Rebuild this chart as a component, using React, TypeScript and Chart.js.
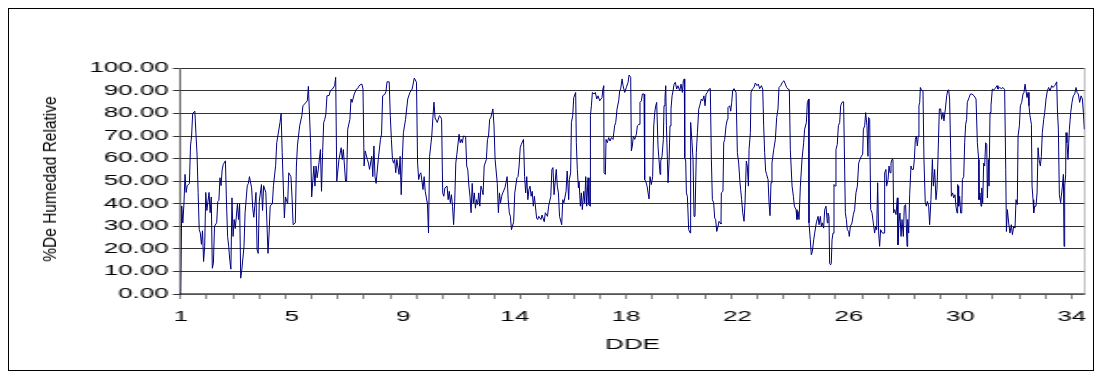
import React, { useEffect, useRef } from "react";
import { Chart, registerables } from "chart.js";

Chart.register(...registerables);

// Hour offsets (from the first reading) at which the relative humidity was read
const hours: number[] = [
  0, 1, 2, 3, 4, 5, 6, 8, 9, 10, 11, 13, 14, 15, 16, 17, 18, 19, 20, 21,
  22, 23, 24, 26, 27, 28, 29, 30, 31, 33, 34, 35, 36, 37, 38, 39, 41, 42, 43, 44,
  45, 46, 47, 48, 49, 50, 52, 53, 54, 55, 56, 58, 59, 61, 62, 63, 65, 66, 67, 69,
  70, 71, 72, 74, 75, 76, 78, 79, 80, 81, 82, 84, 85, 87, 88, 89, 91, 92, 93, 94,
  95, 96, 98, 99, 101, 102, 103, 105, 106, 107, 109, 111, 112, 115, 116,
  117, 119, 120, 122, 123, 124, 125, 126, 128, 129, 130, 131, 132, 133, 134, 136, 137, 139, 141, 142,
  143, 145, 147, 148, 149, 151, 152, 153, 155, 156, 157, 159, 161, 162, 164, 166, 167, 168, 169, 171,
  172, 173, 175, 176, 177, 178, 179, 181, 183, 184, 185, 187, 188, 189, 191, 192, 193, 194, 195, 196,
  197, 198, 200, 201, 202, 203, 204, 206, 207, 208, 210, 212, 214, 216, 217, 218, 219, 220, 222, 223,
  224, 226, 227, 228, 230, 231, 232, 233, 235,
  237, 238, 239, 240, 241, 242, 244, 245, 246, 247, 248, 249, 250, 251, 252, 253, 255, 256, 257, 258,
  259, 261, 262, 263, 264, 265, 266, 267, 268, 269, 270, 271, 272, 273, 274, 275, 276, 277, 278, 280,
  281, 282, 283, 284, 286, 287, 288, 290, 291, 292, 293, 294, 295, 297, 299, 300, 301, 302, 303, 305,
  306, 308, 309, 310, 311, 312, 314, 315, 316, 317, 318, 319, 320, 321, 322, 323, 324, 326, 327, 328,
  330, 331, 333, 334, 336, 337, 339, 340, 341, 342, 344, 345, 346, 347, 349, 350, 351, 353, 354,
  355.4, 356, 357.2, 357.9, 359.1, 360, 361.8, 362.4, 363.3, 364.3, 364.9, 366.1, 367, 367.9, 369.2, 370.1, 371, 371.9, 373.1, 374,
  375, 375.3, 376.2, 377.1, 378.6, 379.8, 381.1, 382.3, 383.8, 385.9, 386.9, 387.5, 387.8, 389, 389.6, 390.8, 392, 393.3, 394.5, 396,
  397.5, 398.5, 399.7, 401.2, 402.1, 403, 404.3, 405.2, 406.7, 408.2, 409.8, 410.7, 412.2, 412.8, 413.7, 414.6, 415.9, 417.4, 418.3, 419.8,
  420.7, 422, 422.9, 424.4, 425, 425.9, 427.2, 428.1, 429, 429.9, 431.1, 432.3, 433.3, 434.2, 435.1, 436, 437.2, 438.1, 439.1, 439.7,
  440.9, 442.1, 442.7, 443.6, 444.3, 444.9, 445.8, 446.4, 447.3, 448.2, 449.1, 450.1, 451, 451.9, 453.1, 454.3, 455.5, 457.1, 458.3, 459.5,
  460.4, 461.3, 461.7, 462.6, 463.2, 464.1, 465.3, 466.8, 467.1, 468.4, 469.3, 470.2, 471.1, 472.3, 473.3,
  474.5, 475.4, 476.9, 478.1, 479.3, 480.3, 481.2, 482.4, 483.9, 485.1, 486.1, 487, 488.2, 489.1, 490, 491, 492.2, 493.1, 494, 494.9,
  495.2, 496.7, 497.4, 498.3, 499.5, 500.7, 501.3, 502.9, 503.8, 504.7, 505.6, 506.8, 508.7, 509.9, 511.1, 512.3, 512.9, 513.8, 514.8, 516,
  516.9, 518.1, 519, 520, 520.6, 521.8, 522.4, 523.6, 525.1, 526.4, 527.9, 529.1, 530.3, 531.9, 533.1, 534, 534.9, 535.8, 536.7, 538,
  538.9, 539.8, 540.7, 541.6, 543.2, 544.7, 545.9, 547.1, 548, 549.6, 551.1, 552.6, 553.8, 555.1, 556.3, 557.5, 558.4, 560, 561.2, 562.1,
  563.6, 564.5, 565.4, 566.4, 567.6, 569.1, 570.6, 571.5, 573.1, 574, 575.2, 575.5, 576.7, 577.6, 578.6, 579.8, 580.7, 582.2, 583.8, 584.7,
  585.9, 586.8, 587.7, 588.9, 589.9, 591.1, 592.3,
  592.9, 593.8, 594.4, 595.3, 595.9, 596.6, 597.5, 598.4, 599.6, 600.2, 601.4, 602.4, 603.6, 604.5, 605.7, 607.2, 608.8, 609.7, 610.6, 611.8,
  612.4, 613.4, 614.9, 616.1, 617.3, 618.5, 619.8, 621, 622.2, 623.4, 624.7, 625.3, 626.5, 627.4, 628.6, 629.5, 630.1, 631.1, 632, 633.2,
  634.4, 635.6, 636.6, 637.5, 638.4, 639.3, 640.2, 641.1, 642.7, 644.2, 644.8, 646, 646.6, 647.9, 648.8, 649.7, 650.6, 651.5, 652.4, 653,
  654, 655.2, 656.4, 657, 657.9, 658.8, 659.8, 660.7, 661.9, 662.8, 664, 665.3, 665.9, 666.8, 667.7, 668.9, 669.8, 671.1, 672, 672.9,
  673.8, 674.7, 675.6, 676.2, 676.9, 677.5, 678.4, 679.9, 680.8, 682, 683, 683.9, 685.1, 686, 687.2, 688.5, 689.4, 690.6, 691.8, 692.7,
  693.6, 694.9, 696.1, 697, 698.2, 699.1, 700.4, 701.6, 702.5, 703.4, 704.3, 705.3, 705.9, 707.1, 708, 709.2, 710.1, 711.1, 711.7,
  712, 712.6, 713.5, 714.4, 715.4, 716, 717.2, 718.1, 719, 719.9, 720.5, 722.1, 723.3, 724.8, 726.7, 728.5, 729.7, 730.9, 731.2, 732.1,
  733.1, 733.7, 734.6, 735.5, 736.4, 737.3, 738.3, 738.9, 739.8, 740.4, 741.3, 742.2, 743.4, 744.7, 746.2, 747.7, 748.6, 750.2, 751.7, 753.2,
  754.7, 755.7, 756.3, 757.2, 758.4, 759.6, 760.8, 761.8, 763, 764.2, 765.1, 766.3, 767, 768.2, 769.1, 770.3, 771.5, 772.4, 773.4, 774.3,
  775.2, 776.1, 777, 777.9, 779.2, 779.8, 780.7, 781.3, 782.2, 783.4, 784.4, 785.3, 786.2, 787.4, 788.3, 789.2, 790.5, 791.4, 792.6, 793.8,
  795, 796.3, 797.8, 799, 800.5, 802.4, 803, 803.9, 804.8, 806, 806.6, 807.6, 808.5, 809.1, 809.7, 810.6, 810.9, 811.8, 812.7, 814,
  815.2, 816.4, 817.6, 818.9, 820.1, 821, 822.2, 823.4, 824.7, 825.9, 826.8, 827.7,
];

// Relative humidity (%) at each reading
const humidity: number[] = [
  0, 39, 31.5, 40, 53, 45, 48, 49, 65.6, 70, 80, 81, 71, 62, 45, 28.5, 27, 22, 28, 14.4,
  21, 45, 37, 45, 36, 43, 11.4, 13.6, 30, 31.6, 41, 41.5, 51.5, 48, 55, 57.4, 59, 40, 25.5, 21,
  15, 11, 42.6, 25.5, 33, 29, 40, 33, 40, 7, 10.7, 21, 36, 48, 49, 52, 47, 38, 34, 45,
  19.6, 18, 41, 48.5, 37, 48, 45, 31.5, 18, 27, 39, 40, 48, 57, 67, 70, 76, 80, 62.6, 48,
  33.7, 43, 40, 53.7, 52, 43, 30.7, 31.5, 56.7, 66, 74.5, 79, 83.4, 85, 85.6,
  92, 67, 43, 56.7, 47.8, 56.7, 51.5, 55, 64, 45.5, 62.6, 76, 77.4, 79.7, 87.8, 88, 90, 90.8, 92.3, 96,
  50, 59.6, 64.8, 59.6, 64, 50, 50, 73, 77.4, 86.4, 84.9, 88.6, 90.8, 91, 92.6, 93, 90.8, 56.7, 63.4, 59.6,
  58, 55.2, 61, 52, 65.6, 52, 49, 59.6, 68.5, 70.8, 87.8, 88.5, 89.6, 94, 94, 79, 68.5, 59.6, 58, 59.6,
  53.7, 59.6, 53, 61, 44, 59.6, 71.5, 77.4, 82, 86.4, 89.3, 90.8, 95.7, 93.8, 58, 50.7, 53, 53.7, 46.3, 52,
  45.5, 40, 27, 61, 70, 78, 85, 78, 76,
  79, 78.6, 77.4, 44.8, 43.3, 47, 47.8, 41.8, 45.5, 40.4, 44, 38.9, 30.7, 41, 58, 62, 70.8, 67, 68.5, 67,
  70, 69.7, 56.7, 55, 47.8, 43.3, 36, 49, 40.4, 44.8, 38, 41.8, 39.6, 44.8, 38.9, 47.8, 46.3, 44, 56.7, 59.6,
  68.5, 70, 77.4, 78, 82, 74.5, 59.6, 49, 36, 44.8, 40.4, 43.3, 44.8, 47, 52, 41.8, 36, 34.4, 28.5, 32,
  44.8, 51.5, 52, 56.7, 64.8, 66.3, 68.5, 52, 44.8, 52, 41.8, 46.3, 47.8, 43.3, 45.5, 38.9, 43.3, 33.7, 33, 34.4,
  33, 35, 32, 36, 34.4, 38.9, 43.3, 55.2, 56, 44, 55.2, 47.8, 44.8, 34.4, 30.7, 41.8, 40.4, 45.5, 54.5,
  41.8, 50.7, 53.7, 76, 79, 87, 89.3, 67, 55.2, 47, 50, 38.9, 44.8, 37.4, 45.5, 40.4, 52, 38.9, 51.5, 39.6,
  38.9, 79, 83.4, 89.3, 88.6, 89.3, 86.4, 87.8, 85.6, 87, 91.5, 92.3, 53.7, 53, 68.5, 67, 69.3, 67.8, 69.3, 68.5,
  74.5, 76, 82, 85.6, 90, 90.8, 95.3, 92.3, 89.3, 91.5, 93.8, 97, 96, 63.4, 65.6, 70, 68.5, 70.8, 74.5, 75.2,
  84.9, 85.6, 88.6, 88.6, 50.7, 50, 47.8, 44.8, 42.1, 52, 48.5, 52, 74.5, 80.4, 83.4, 84.9, 65.6, 59.6, 53, 58.9,
  61, 68.5, 83.4, 87, 92.3, 74.5, 59.6, 49.3, 58, 74.5, 82, 87.8, 90, 93, 93.8, 90.8, 92.3, 90, 93, 89.3,
  94.5, 95.3, 60.4, 58.9, 44.8, 43.3, 28.5, 27, 76, 67, 59.6, 34.4, 34.4, 62.6, 71.5,
  81.9, 83.4, 86.4, 85.6, 87.8, 83.4, 88.6, 89.3, 90.8, 91, 59.6, 41.8, 40.4, 33.7, 33, 27.7, 30, 32.2, 31.5, 31,
  44.8, 45.5, 67, 68.5, 74.5, 77.4, 82.6, 83.4, 81, 84.9, 90, 91, 89.3, 62.6, 58, 49.3, 46.3, 41.8, 36, 32.2,
  40.4, 58.9, 56.7, 47.8, 64, 71.5, 89.3, 90.8, 91.5, 93.5, 92.3, 93, 91, 92.3, 90.8, 74.5, 62.6, 54.5, 53, 50.7,
  40.4, 34.7, 49.3, 58, 64, 68.5, 78.2, 82, 91.5, 92.3, 93.8, 94.5, 93, 91.5, 90.8, 90.5, 64, 47.8, 43.3, 38.9,
  37.4, 33, 36.6, 33, 47.8, 59.6, 67, 73, 76, 84.9, 86.4, 31.5, 24, 17.4, 18.8, 24, 27, 31.5, 34.4, 30.7,
  34.4, 30, 31.5, 29.2, 37.4, 38.9, 31.5,
  35.9, 34.4, 13.6, 12.9, 13.6, 24, 27, 48.5, 47.8, 64, 66.3, 74.5, 76, 83.4, 84.9, 85.2, 36, 33, 28.5, 27.7,
  25.5, 30, 31.5, 35.2, 37.4, 44.8, 47.8, 58, 59.6, 61, 62, 73, 74.5, 80.4, 74.5, 61, 78.2, 77.4, 37.4, 36,
  31.5, 27, 30, 28.5, 49.3, 27, 21.1, 28.5, 27, 27, 53.7, 55.2, 47.8, 50.7, 56.7, 53.7, 58, 59.6, 59.6, 35.9,
  37.4, 35.2, 42.6, 21.8, 31.5, 35.9, 25.5, 33, 25.5, 38.9, 39.6, 21.1, 33, 27, 44, 56.7, 55.2, 55.2, 59.6, 68.5,
  70, 65.6, 70, 83.4, 84.9, 91.5, 90.5, 90, 59.6, 40.4, 38.9, 41, 38.9, 30.7, 41.8, 59.6, 47.8, 55.2, 41.8, 46.3,
  59.6, 82, 82, 77.4, 80.4, 76.7, 82, 87.8, 90, 90.5, 86.4, 62.6, 43.3, 44.8, 42.6, 44, 38.9, 35.9, 48.5,
  47.8, 38.9, 43.3, 35.9, 35.9, 50.7, 52, 67, 75.2, 77.4, 84.9, 87, 88.6, 88.6, 87.8, 86.4, 67, 59.6, 41.8, 44.8,
  38.9, 47, 40.4, 58, 56.7, 67, 66.3, 42.6, 59.6, 47.8, 80.4, 83.4, 90.8, 90.5, 91.1, 92.3, 90.8, 91.5, 91, 91.5,
  90.5, 55.2, 27.7, 37.4, 31.5, 27, 30.7, 26.3, 30, 29.2, 41.8, 39.6, 70, 74.5, 83.4, 84.9, 88.6, 89.3, 93, 90,
  87, 89.3, 83.4, 79, 75.2, 47.8, 41.8, 35.9, 38.9, 38.9, 44.8, 64.8, 59.6, 56.7, 61, 71.5, 77.4, 80.4, 86.4, 90,
  91.5, 90, 92.3, 91.5, 92.3, 94, 82, 73, 44, 40.4, 43.3, 47.8, 53, 21.1, 47.8, 53, 71.5, 67, 59.6, 73,
  80.4, 84.9, 87.8, 88.6, 91.5, 89.3, 88.6, 84.9, 87.8, 86.4, 80.4, 73,
];

// Day labels shown under the axis (one every 102 hours), and tick marks every 24 hours
const dayLabels: string[] = ["1", "5", "9", "14", "18", "22", "26", "30", "34"];
const LABEL_STEP = 102;
const TICK_STEP = 24;
const X_MAX = 828;
const Y_MAX = 100;

const Y_TITLE = "%De Humedad Relative";
const X_TITLE = "DDE";

const FONT = "'Liberation Sans', Arial, sans-serif";
const BOX_W = 1084;
const BOX_H = 361;
const AXES_W = 586; // axes/text canvas is drawn narrow and stretched, like the source picture
const STRETCH = BOX_W / AXES_W;

// Plot area inside the axes canvas (unstretched units)
const PLOT_LEFT = 92.8;
const PLOT_RIGHT_PAD = 4.5;
const PLOT_TOP = 59.3;
const X_AXIS_H = 76;

export default function App() {
  const axesRef = useRef<HTMLCanvasElement | null>(null);
  const lineRef = useRef<HTMLCanvasElement | null>(null);

  useEffect(() => {
    const axesCanvas = axesRef.current;
    const lineCanvas = lineRef.current;
    if (!axesCanvas || !lineCanvas) return;

    const tickValues: number[] = [];
    for (let v = 0; v <= X_MAX; v += TICK_STEP) tickValues.push(v);
    dayLabels.forEach((_, i) => tickValues.push(i * LABEL_STEP));
    const uniqueTicks = Array.from(new Set(tickValues)).sort((a, b) => a - b);

    // Axes, grid and labels
    const axesChart = new Chart(axesCanvas, {
      type: "line",
      data: { datasets: [{ data: [], pointRadius: 0 }] },
      options: {
        animation: false,
        responsive: false,
        maintainAspectRatio: false,
        events: [],
        plugins: { legend: { display: false }, tooltip: { enabled: false } },
        layout: { padding: { left: 0, right: PLOT_RIGHT_PAD, top: PLOT_TOP, bottom: 0 } },
        scales: {
          x: {
            type: "linear",
            min: 0,
            max: X_MAX,
            afterBuildTicks: (scale: any) => {
              scale.ticks = uniqueTicks.map((v) => ({ value: v }));
            },
            afterFit: (scale: any) => {
              scale.height = X_AXIS_H;
              scale.paddingLeft = 0;
              scale.paddingRight = 0;
            },
            ticks: {
              autoSkip: false,
              maxRotation: 0,
              minRotation: 0,
              padding: 10,
              color: "#000",
              font: { family: FONT, size: 14 },
              callback: (value: any) =>
                Number(value) % LABEL_STEP === 0 ? dayLabels[Number(value) / LABEL_STEP] ?? "" : "",
            },
            grid: {
              drawOnChartArea: false,
              drawTicks: true,
              tickLength: 5,
              tickWidth: 0.6,
              tickColor: (ctx: any) =>
                ctx.tick && ctx.tick.value % TICK_STEP === 0 ? "#333" : "rgba(0,0,0,0)",
            },
            border: { display: true, color: "#777", width: 1.5 },
            title: {
              display: true,
              text: X_TITLE,
              color: "#000",
              font: { family: FONT, size: 14 },
              padding: { top: 0, bottom: 16.6 },
            },
          },
          y: {
            type: "linear",
            min: 0,
            max: Y_MAX,
            afterFit: (scale: any) => {
              scale.width = PLOT_LEFT;
            },
            ticks: {
              stepSize: 10,
              padding: 2.4,
              color: "#000",
              font: { family: FONT, size: 14 },
              callback: (value: any) => Number(value).toFixed(2),
            },
            grid: {
              color: "#333",
              lineWidth: 1,
              drawTicks: true,
              tickLength: 4.2,
              tickColor: "#333",
            },
            border: { display: true, color: "#000", width: 0.6 },
          },
          y2: {
            type: "linear",
            position: "right",
            display: true,
            afterFit: (scale: any) => {
              scale.width = 0;
            },
            grid: { display: false, drawTicks: false },
            ticks: { display: false },
            border: { display: true, color: "#999", width: 0.6 },
          },
        },
      },
    } as any);

    // Data line, drawn unstretched over the same plot area
    const lineChart = new Chart(lineCanvas, {
      type: "line",
      data: {
        datasets: [
          {
            data: hours.map((h, i) => ({ x: h, y: humidity[i] })),
            borderColor: "#000080",
            borderWidth: 1,
            pointRadius: 0,
            tension: 0,
            fill: false,
          },
        ],
      },
      options: {
        animation: false,
        responsive: false,
        maintainAspectRatio: false,
        events: [],
        plugins: { legend: { display: false }, tooltip: { enabled: false } },
        layout: {
          padding: {
            left: PLOT_LEFT * STRETCH,
            right: PLOT_RIGHT_PAD * STRETCH,
            top: PLOT_TOP,
            bottom: X_AXIS_H,
          },
        },
        scales: {
          x: { type: "linear", min: 0, max: X_MAX, display: false },
          y: { type: "linear", min: 0, max: Y_MAX, display: false },
        },
      },
    } as any);

    return () => {
      axesChart.destroy();
      lineChart.destroy();
    };
  }, []);

  return (
    <div>
      <div
        style={{
          position: "absolute",
          left: 8,
          top: 8,
          width: BOX_W + 2,
          height: BOX_H + 2,
          border: "1px solid #000",
          boxSizing: "border-box",
          background: "#fff",
        }}
      />
      <div
        style={{
          position: "absolute",
          left: 9,
          top: 9,
          width: AXES_W,
          height: BOX_H,
          transform: `scaleX(${STRETCH})`,
          transformOrigin: "0 0",
        }}
      >
        <canvas ref={axesRef} width={AXES_W} height={BOX_H} style={{ display: "block" }} />
      </div>
      <div style={{ position: "absolute", left: 9, top: 9, width: BOX_W, height: BOX_H }}>
        <canvas ref={lineRef} width={BOX_W} height={BOX_H} style={{ display: "block" }} />
      </div>
      <div
        style={{
          position: "absolute",
          left: 50,
          top: 178.5,
          transform: "translate(-50%, -50%) rotate(-90deg) scaleY(1.15)",
          fontFamily: FONT,
          fontSize: 15.5,
          lineHeight: 1,
          whiteSpace: "nowrap",
          color: "#000",
        }}
      >
        {Y_TITLE}
      </div>
    </div>
  );
}
